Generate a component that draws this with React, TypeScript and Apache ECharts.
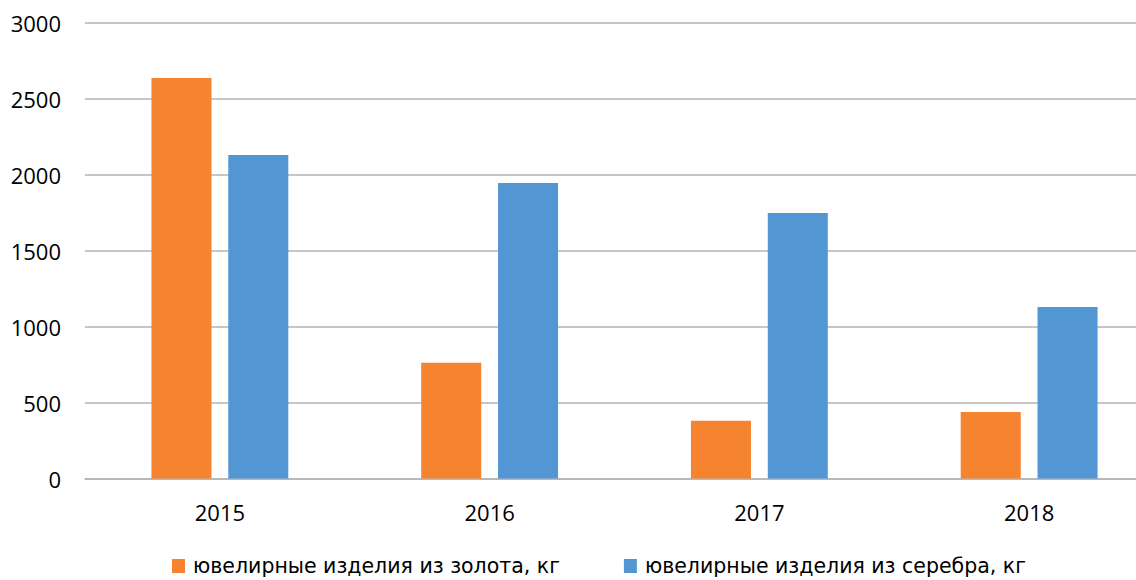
import React, { useEffect, useRef } from "react";
import * as echarts from "echarts";

const categories = ["2015", "2016", "2017", "2018"];
const goldValues = [2635, 762, 380, 437];
const silverValues = [2128, 1944, 1747, 1128];
const seriesNames = ["ювелирные изделия из золота, кг", "ювелирные изделия из серебра, кг"];
const colors = ["#F5832F", "#5297D3"];

export default function App() {
  const ref = useRef<HTMLDivElement>(null);
  useEffect(() => {
    document.body.style.margin = "0";
    const chart = echarts.init(ref.current!, null, { renderer: "svg" });
    const font = "'Open Sans', 'Noto Sans', sans-serif";
    const legendFont = "'DejaVu Sans', 'Noto Sans', sans-serif";
    chart.setOption({
      animation: false,
      textStyle: { fontFamily: font },
      grid: { left: 85, right: 0, top: 22.5, bottom: 101.5, containLabel: false },
      legend: {
        left: 172,
        top: 555,
        padding: 0,
        itemWidth: 13,
        itemHeight: 14,
        itemGap: 64,
        icon: "rect",
        textStyle: { fontFamily: legendFont, fontSize: 20.5, color: "#000", padding: [0, 0, 0, 3], lineHeight: 22 },
        data: seriesNames,
      },
      xAxis: {
        type: "category",
        data: categories,
        axisLine: { lineStyle: { color: "#b3b3b3", width: 1.5 } },
        axisTick: { show: false },
        axisLabel: { fontSize: 22, color: "#000", margin: 22, fontFamily: font },
      },
      yAxis: {
        type: "value",
        min: 0,
        max: 3000,
        interval: 500,
        axisLine: { show: false },
        axisTick: { show: false },
        splitLine: { lineStyle: { color: "#b3b3b3", width: 1.5 } },
        axisLabel: {
          fontSize: 22,
          color: "#000",
          margin: 24,
          fontFamily: font,
          formatter: (v: number) => String(v),
        },
      },
      series: [
        {
          name: seriesNames[0],
          type: "bar",
          data: goldValues,
          barWidth: "22.25%",
          barGap: "28%",
          itemStyle: { color: colors[0] },
        },
        {
          name: seriesNames[1],
          type: "bar",
          data: silverValues,
          barWidth: "22.25%",
          itemStyle: { color: colors[1] },
        },
      ],
    });
    return () => chart.dispose();
  }, []);
  return (
    <div style={{ width: 1136, height: 580, overflow: "hidden", position: "relative" }}>
      <div ref={ref} style={{ width: 1164, height: 580 }} />
    </div>
  );
}
